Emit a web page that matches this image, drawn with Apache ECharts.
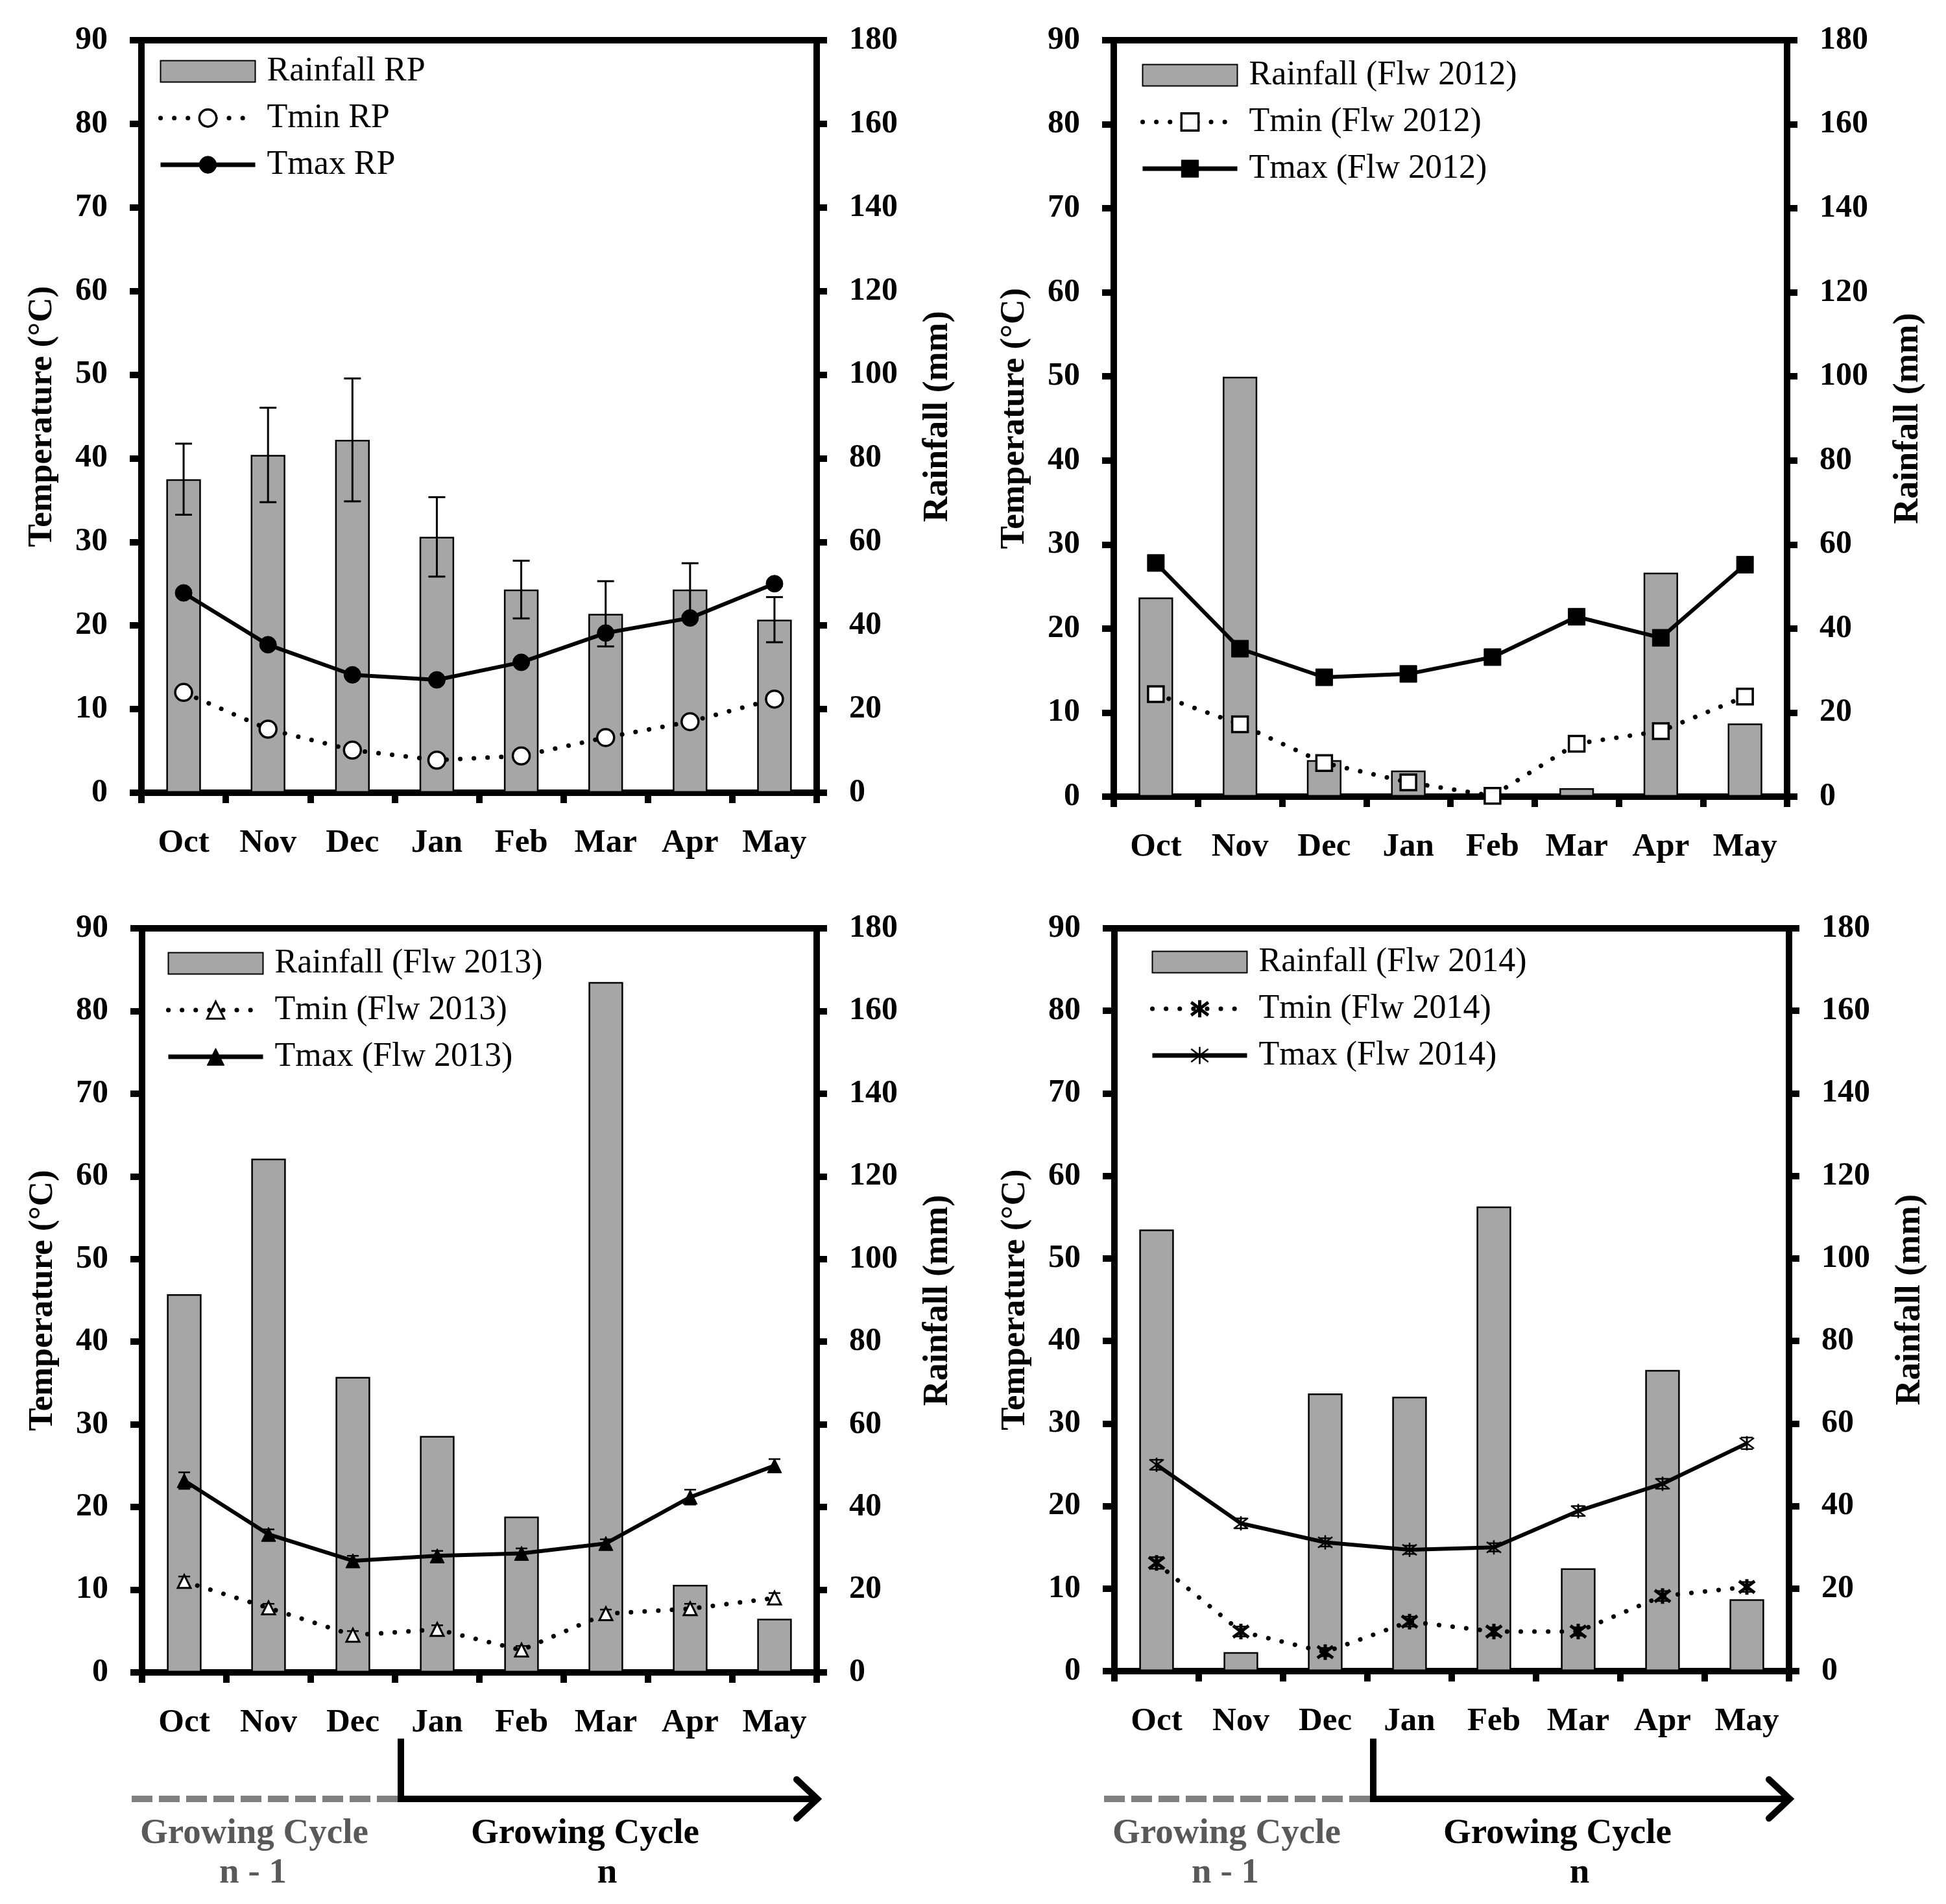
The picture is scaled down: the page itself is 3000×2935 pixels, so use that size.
<!DOCTYPE html>
<html><head><meta charset="utf-8">
<script src="https://cdn.jsdelivr.net/npm/echarts@6/dist/echarts.min.js"></script>
<style>html,body{margin:0;padding:0;background:#fff}#c{width:3000px;height:2935px}</style>
</head><body><div id="c"></div>
<script>
// ---------- data ----------
const months = ['Oct','Nov','Dec','Jan','Feb','Mar','Apr','May'];
const tempTicks = {min: 0, max: 90, interval: 10};
const rainTicks = {min: 0, max: 180, interval: 20};

const rainRP    = [75.0, 80.8, 84.4, 61.2, 48.6, 42.8, 48.6, 41.4];
const rainRPErr = [8.5, 11.3, 14.7, 9.5, 6.9, 7.8, 6.3, 5.4];
const tminRP    = [12.0, 7.6, 5.1, 3.9, 4.4, 6.6, 8.5, 11.2];
const tmaxRP    = [23.9, 17.7, 14.1, 13.5, 15.6, 19.1, 20.9, 25.0];

const rain2012  = [47.4, 99.9, 8.7, 6.2, 0.0, 2.0, 53.3, 17.4];
const tmin2012  = [12.2, 8.6, 4.0, 1.7, 0.1, 6.3, 7.8, 11.9];
const tmax2012  = [27.8, 17.6, 14.2, 14.6, 16.6, 21.4, 18.9, 27.6];

const rain2013  = [91.5, 124.3, 71.5, 57.2, 37.7, 167.0, 21.2, 13.0];
const tmin2013  = [11.0, 7.8, 4.5, 5.2, 2.7, 7.1, 7.7, 9.0];
const tmax2013  = [23.2, 16.7, 13.5, 14.1, 14.4, 15.6, 21.2, 25.0];
const tmin2013Err = [0.6, 0.5, 0.5, 0.5, 0.5, 0.5, 0.6, 0.6];
const tmax2013Err = [1.0, 0.6, 0.6, 0.6, 0.6, 0.5, 0.9, 0.8];

const rain2014  = [107.0, 4.6, 67.3, 66.5, 112.6, 24.9, 73.0, 17.4];
const tmin2014  = [13.1, 4.8, 2.3, 6.0, 4.8, 4.8, 9.1, 10.2];
const tmax2014  = [25.0, 17.9, 15.6, 14.7, 15.0, 19.4, 22.7, 27.6];
const tmin2014Err = [0.7, 0.6, 0.5, 0.6, 0.5, 0.5, 0.6, 0.6];
const tmax2014Err = [0.6, 0.6, 0.5, 0.5, 0.5, 0.6, 0.6, 0.7];

// ---------- styling helpers ----------
const FONT = 'Liberation Serif';
const ASTER = 'path://M0,-10L0,10M-7.5,-7.5L7.5,7.5M-7.5,7.5L7.5,-7.5';
const DOTTED = {color: '#000', width: 7, type: [0.1, 21], cap: 'round'};
const SOLID = {color: '#000', width: 7, type: 'solid'};

const grids = [
  {left: 218, top: 62, width: 1041, height: 1160},
  {left: 1717, top: 62, width: 1038, height: 1166},
  {left: 219, top: 1431, width: 1040, height: 1147},
  {left: 1718, top: 1431, width: 1040, height: 1145}
];

function xAxis(i) {
  return {
    type: 'category', gridIndex: i, data: months, boundaryGap: true,
    axisLine: {show: true, lineStyle: {color: '#000', width: 10}},
    axisTick: {show: true, length: 16, lineStyle: {color: '#000', width: 10}},
    axisLabel: {color: '#000', fontFamily: FONT, fontWeight: 'bold', fontSize: 51, margin: 52},
    splitLine: {show: false}
  };
}
function yAxisT(i) {
  return {
    type: 'value', gridIndex: i, position: 'left', ...tempTicks,
    name: 'Temperature (°C)', nameLocation: 'middle', nameRotate: 90, nameGap: 126,
    nameTextStyle: {color: '#000', fontFamily: FONT, fontWeight: 'bold', fontSize: 53},
    axisLine: {show: true, lineStyle: {color: '#000', width: 10}},
    axisTick: {show: true, length: 18, lineStyle: {color: '#000', width: 10}},
    axisLabel: {color: '#000', fontFamily: FONT, fontWeight: 'bold', fontSize: 50, margin: 52},
    splitLine: {show: false}
  };
}
function yAxisR(i) {
  return {
    type: 'value', gridIndex: i, position: 'right', ...rainTicks,
    name: 'Rainfall (mm)', nameLocation: 'middle', nameRotate: 90, nameGap: 160,
    nameTextStyle: {color: '#000', fontFamily: FONT, fontWeight: 'bold', fontSize: 54},
    axisLine: {show: true, lineStyle: {color: '#000', width: 10}},
    axisTick: {show: true, length: 16, lineStyle: {color: '#000', width: 10}},
    axisLabel: {color: '#000', fontFamily: FONT, fontWeight: 'bold', fontSize: 50, margin: 50},
    splitLine: {show: false}
  };
}

function barSeries(name, gi, data) {
  return {
    name, type: 'bar', xAxisIndex: gi, yAxisIndex: gi * 2 + 1, data, barWidth: '41%',
    itemStyle: {color: '#a6a6a6', borderColor: '#000', borderWidth: 2.5}, z: 2
  };
}
function lineSeries(name, gi, data, dotted, symbol, size, filled, bw) {
  return {
    name, type: 'line', xAxisIndex: gi, yAxisIndex: gi * 2, data,
    symbol, symbolSize: size, showAllSymbol: true,
    lineStyle: dotted ? DOTTED : {color: '#000', width: 6, type: 'solid'},
    itemStyle: {color: filled ? '#000' : '#fff', borderColor: '#000', borderWidth: bw},
    z: 5
  };
}
function errSeries(gi, yIdx, vals, errs, cap, lw) {
  return {
    type: 'custom', xAxisIndex: gi, yAxisIndex: yIdx, silent: true, z: 4,
    data: vals.map((v, i) => [i, v, errs[i]]),
    renderItem: (params, api) => {
      const x = api.value(0), v = api.value(1), e = api.value(2);
      const t = api.coord([x, v + e]), b = api.coord([x, v - e]);
      const h = cap / 2, st = {stroke: '#000', lineWidth: lw};
      return {type: 'group', children: [
        {type: 'line', shape: {x1: t[0], y1: t[1], x2: b[0], y2: b[1]}, style: st},
        {type: 'line', shape: {x1: t[0] - h, y1: t[1], x2: t[0] + h, y2: t[1]}, style: st},
        {type: 'line', shape: {x1: b[0] - h, y1: b[1], x2: b[0] + h, y2: b[1]}, style: st}
      ]};
    }
  };
}
function legend(left, top, names, bwMin, bwMax) {
  return {
    orient: 'vertical', left, top, padding: 0, itemWidth: 146, itemHeight: 33, itemGap: 20,
    selectedMode: false,
    data: [
      {name: names[0], icon: 'rect'},
      {name: names[1], lineStyle: DOTTED, itemStyle: {borderColor: '#000', borderWidth: bwMin}},
      {name: names[2], lineStyle: SOLID, itemStyle: {borderColor: '#000', borderWidth: bwMax}}
    ],
    formatter: ' {name}',
    textStyle: {color: '#000', fontFamily: FONT, fontSize: 52, lineHeight: 50}
  };
}

// ---------- bottom annotation (growing cycle arrows) ----------
function cycleGraphic(dx) {
  const y = 2773, xv = 618 + dx;
  const f = 'bold 55px "Liberation Serif"';
  return [
    {type: 'line', shape: {x1: 203 + dx, y1: y, x2: xv - 5, y2: y},
     style: {stroke: '#808080', lineWidth: 10, lineDash: [32, 10]}},
    {type: 'polyline', shape: {points: [[xv, 2680], [xv, y], [1258 + dx, y]]},
     style: {stroke: '#000', lineWidth: 10, fill: null, lineJoin: 'miter'}},
    {type: 'polyline', shape: {points: [[1228 + dx, y - 30], [1260 + dx, y], [1228 + dx, y + 30]]},
     style: {stroke: '#000', lineWidth: 10, fill: null, lineCap: 'round', lineJoin: 'miter'}},
    {type: 'text', x: 392 + dx, y: 2827, style: {text: 'Growing Cycle', fill: '#595959',
      font: f, textAlign: 'center', textVerticalAlign: 'middle'}},
    {type: 'text', x: 390 + dx, y: 2888, style: {text: 'n - 1', fill: '#595959',
      font: f, textAlign: 'center', textVerticalAlign: 'middle'}},
    {type: 'text', x: 902 + dx, y: 2827, style: {text: 'Growing Cycle', fill: '#000',
      font: f, textAlign: 'center', textVerticalAlign: 'middle'}},
    {type: 'text', x: 936 + dx, y: 2888, style: {text: 'n', fill: '#000',
      font: f, textAlign: 'center', textVerticalAlign: 'middle'}}
  ];
}

const option = {
  backgroundColor: '#fff',
  animation: false,
  grid: grids.map(g => ({...g, show: true, borderColor: '#000', borderWidth: 10, backgroundColor: 'transparent'})),
  xAxis: [0, 1, 2, 3].map(xAxis),
  yAxis: [0, 1, 2, 3].flatMap(i => [yAxisT(i), yAxisR(i)]),
  legend: [
    legend(244, 84, ['Rainfall RP', 'Tmin RP', 'Tmax RP'], 3.5, 1),
    legend(1758, 90, ['Rainfall (Flw 2012)', 'Tmin (Flw 2012)', 'Tmax (Flw 2012)'], 3.5, 1),
    legend(256, 1459, ['Rainfall (Flw 2013)', 'Tmin (Flw 2013)', 'Tmax (Flw 2013)'], 3, 1),
    legend(1773, 1457, ['Rainfall (Flw 2014)', 'Tmin (Flw 2014)', 'Tmax (Flw 2014)'], 5, 2.5)
  ],
  series: [
    barSeries('Rainfall RP', 0, rainRP),
    errSeries(0, 1, rainRP, rainRPErr, 26, 3),
    lineSeries('Tmin RP', 0, tminRP, true, 'circle', 26, false, 3.5),
    lineSeries('Tmax RP', 0, tmaxRP, false, 'circle', 26, true, 1),

    barSeries('Rainfall (Flw 2012)', 1, rain2012),
    lineSeries('Tmin (Flw 2012)', 1, tmin2012, true, 'rect', 24, false, 3.5),
    lineSeries('Tmax (Flw 2012)', 1, tmax2012, false, 'rect', 26, true, 1),

    barSeries('Rainfall (Flw 2013)', 2, rain2013),
    errSeries(2, 4, tmin2013, tmin2013Err, 18, 2.5),
    errSeries(2, 4, tmax2013, tmax2013Err, 18, 2.5),
    lineSeries('Tmin (Flw 2013)', 2, tmin2013, true, 'triangle', 20, false, 3),
    lineSeries('Tmax (Flw 2013)', 2, tmax2013, false, 'triangle', 22, true, 1),

    barSeries('Rainfall (Flw 2014)', 3, rain2014),
    errSeries(3, 6, tmin2014, tmin2014Err, 18, 2.5),
    errSeries(3, 6, tmax2014, tmax2014Err, 18, 2.5),
    lineSeries('Tmin (Flw 2014)', 3, tmin2014, true, ASTER, 24, true, 5),
    lineSeries('Tmax (Flw 2014)', 3, tmax2014, false, ASTER, 22, true, 2.5)
  ],
  graphic: [...cycleGraphic(0), ...cycleGraphic(1499)]
};

const chart = echarts.init(document.getElementById('c'), null, {renderer: 'canvas', width: 3000, height: 2935});
chart.setOption(option);
</script>
</body></html>
